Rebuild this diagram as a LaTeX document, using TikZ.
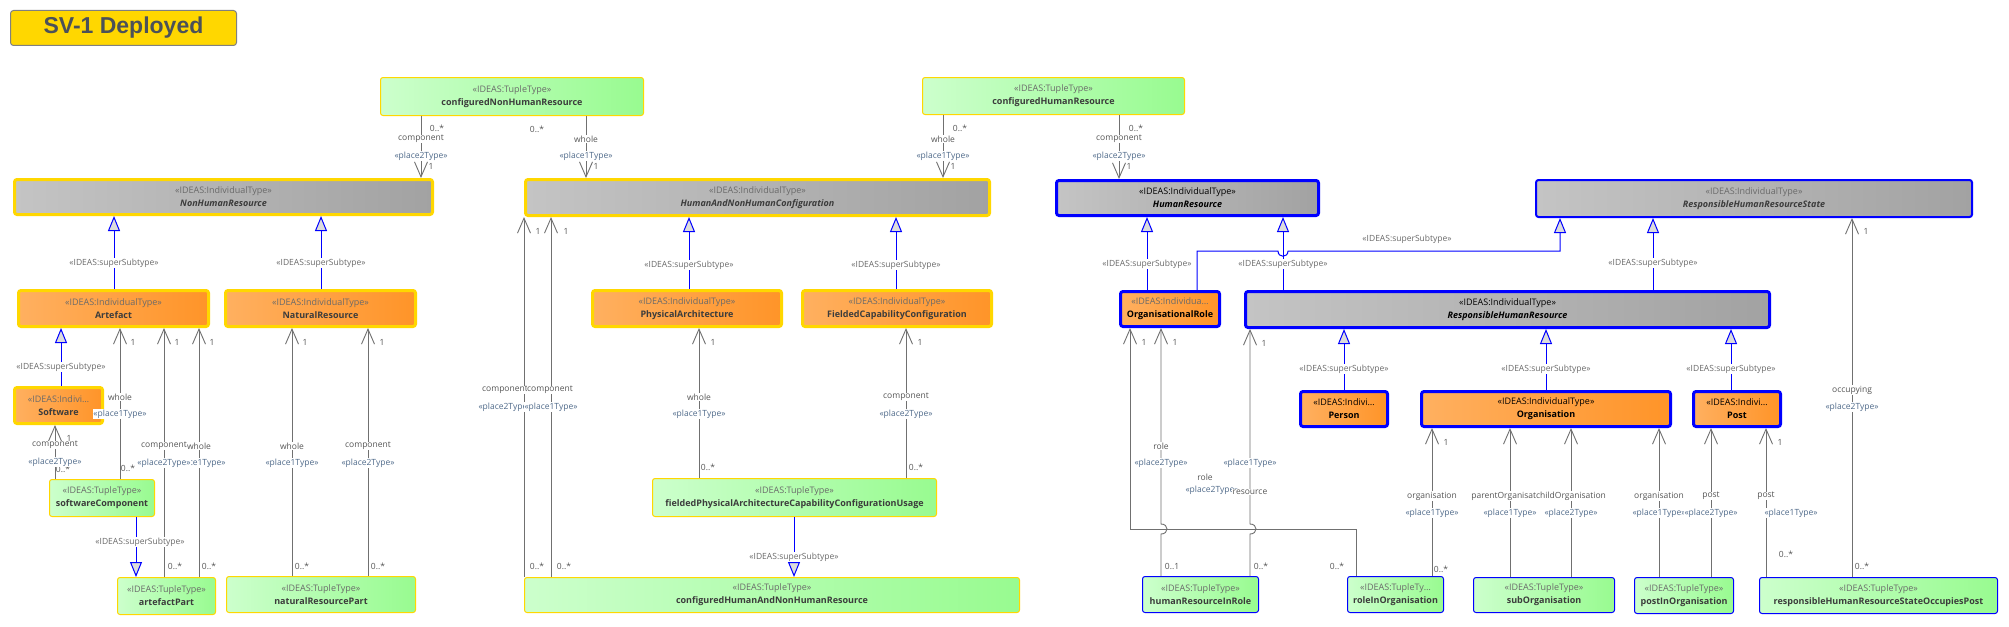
\documentclass[tikz,border=0pt]{standalone}
\usepackage{fontspec}
\usetikzlibrary{arrows.meta}
\newfontfamily\dfont{Open Sans}
\newfontfamily\tfont{Liberation Sans}
\definecolor{gold}{HTML}{FFD700}
\definecolor{gra}{HTML}{C4C4C4}
\definecolor{grb}{HTML}{A2A2A2}
\definecolor{ora}{HTML}{FFB060}
\definecolor{orb}{HTML}{FF9428}
\definecolor{gna}{HTML}{CCFFCC}
\definecolor{gnb}{HTML}{98FB90}
\definecolor{bl}{HTML}{0000FF}
\definecolor{lgray}{HTML}{707070}
\definecolor{trig}{HTML}{DCDCDC}
\definecolor{txtg}{HTML}{6A6A6A}
\definecolor{txtd}{HTML}{3C3C3C}
\definecolor{labr}{HTML}{555555}
\definecolor{labs}{HTML}{4F6A8A}
\definecolor{ttxt}{HTML}{4B5159}
\newcommand\nodefont{\dfont\fontsize{9}{13}\selectfont}
\newcommand\labfont{\dfont\fontsize{8.5}{10}\selectfont}
\newcommand\stg[1]{{\color{txtg}#1}}
\newcommand\stk[1]{{\color{black}#1}}
\newcommand\nmb[1]{{\bfseries #1}}
\newcommand\nmi[1]{{\bfseries\itshape #1}}
\newcommand\lrole[4]{\node[rolel] (#1) at (#2,#3) {#4};}
\newcommand\lster[4]{\node[sterl] (#1) at (#2,#3) {#4};}
\newcommand\lmult[4]{\node[multl] (#1) at (#2,#3) {#4};}
\newcommand\lgen[3]{\node[genl] (#1) at (#2,#3) {«IDEAS:superSubtype»};}
\tikzset{
  box/.style={rectangle, rounded corners=2.5pt, align=center, inner sep=1pt, font=\nodefont, text=txtd},
  gind/.style={box, draw=gold, line width=3pt, left color=ora, right color=orb},
  gabs/.style={box, draw=gold, line width=3pt, left color=gra, right color=grb},
  babs/.style={box, draw=bl, line width=3pt, left color=gra, right color=grb, text=black},
  bind/.style={box, draw=bl, line width=3pt, left color=ora, right color=orb, text=black},
  gtup/.style={box, draw=gold, line width=1pt, left color=gna, right color=gnb},
  btup/.style={box, draw=bl, line width=1pt, left color=gna, right color=gnb},
  assoc/.style={draw=lgray, line width=0.9pt, -{Straight Barb[length=15pt,width=13pt]}},
  gen/.style={draw=bl, line width=1pt, -{Triangle[fill=trig,length=15pt,width=12pt]}},
  rolel/.style={font=\labfont, fill=white, inner sep=0.6pt, text=labr},
  sterl/.style={font=\labfont, fill=white, inner sep=0.6pt, text=labs},
  multl/.style={font=\labfont, inner sep=0.3pt, text=labr},
  genl/.style={font=\labfont, fill=white, inner sep=0.6pt, text=txtg},
}
\begin{document}
\begin{tikzpicture}[x=1pt,y=-1pt]
\fill[white] (0,0) rectangle (2009,626);
\useasboundingbox (0,0) rectangle (2009,626);
% title
\node[draw=gray, fill=gold, rounded corners=3pt, line width=1pt, minimum width=226, minimum height=35,
  font=\tfont\bfseries\fontsize{23}{23}\selectfont, text=ttxt] (title) at (123.5,28) {SV-1 Deployed};
% row 0 tuple types
\node[gtup, minimum width=263, minimum height=38] (cnhr) at (512,96.5) {\stg{«IDEAS:TupleType»}\\\nmb{configuredNonHumanResource}};
\node[gtup, minimum width=262, minimum height=37] (chr) at (1053.5,96) {\stg{«IDEAS:TupleType»}\\\nmb{configuredHumanResource}};
% row 1
\node[gabs, minimum width=418, minimum height=35] (nhr) at (223.5,197) {\stg{«IDEAS:IndividualType»}\\\nmi{NonHumanResource}};
\node[gabs, minimum width=464, minimum height=36] (hanhc) at (757.5,197.5) {\stg{«IDEAS:IndividualType»}\\\nmi{HumanAndNonHumanConfiguration}};
\node[babs, minimum width=262, minimum height=35] (hr) at (1187.5,198) {\stk{«IDEAS:IndividualType»}\\\nmi{HumanResource}};
\node[babs, line width=2pt, text=txtd, minimum width=436, minimum height=37] (rhrs) at (1754,198.5) {\stg{«IDEAS:IndividualType»}\\\nmi{ResponsibleHumanResourceState}};
% row 2
\node[gind, minimum width=190, minimum height=36] (art) at (113.5,308.5) {\stg{«IDEAS:IndividualType»}\\\nmb{Artefact}};
\node[gind, minimum width=190, minimum height=36] (nr) at (320.5,308.5) {\stg{«IDEAS:IndividualType»}\\\nmb{NaturalResource}};
\node[gind, minimum width=189, minimum height=36] (pa) at (687,308.5) {\stg{«IDEAS:IndividualType»}\\\nmb{PhysicalArchitecture}};
\node[gind, minimum width=189, minimum height=36] (fcc) at (897,308.5) {\stg{«IDEAS:IndividualType»}\\\nmb{FieldedCapabilityConfiguration}};
\node[bind, minimum width=99, minimum height=35] (orl) at (1170,309) {\stg{«IDEAS:Individua…}\\\nmb{OrganisationalRole}};
\node[babs, minimum width=524, minimum height=36] (rhr) at (1507.5,309.5) {\stk{«IDEAS:IndividualType»}\\\nmi{ResponsibleHumanResource}};
% row 3
\node[gind, minimum width=88, minimum height=36] (sw) at (58.5,405.5) {\stg{«IDEAS:Indivi…}\\\nmb{Software}};
\node[bind, minimum width=87, minimum height=35] (per) at (1344,409) {\stk{«IDEAS:Indivi…}\\\nmb{Person}};
\node[bind, minimum width=249, minimum height=35] (org) at (1546,409) {\stk{«IDEAS:IndividualType»}\\\nmb{Organisation}};
\node[bind, minimum width=87, minimum height=35] (post) at (1737,409) {\stk{«IDEAS:Indivi…}\\\nmb{Post}};
% row 4
\node[gtup, minimum width=105, minimum height=37] (swc) at (102,498) {\stg{«IDEAS:TupleType»}\\\nmb{softwareComponent}};
\node[gtup, minimum width=284, minimum height=38] (fpa) at (794.5,497.5) {\stg{«IDEAS:TupleType»}\\\nmb{fieldedPhysicalArchitectureCapabilityConfigurationUsage}};
% row 5
\node[gtup, minimum width=98, minimum height=37] (ap) at (166.5,596) {\stg{«IDEAS:TupleType»}\\\nmb{artefactPart}};
\node[gtup, minimum width=189, minimum height=36] (nrp) at (321,594.5) {\stg{«IDEAS:TupleType»}\\\nmb{naturalResourcePart}};
\node[gtup, minimum width=495, minimum height=35] (chnh) at (772,595) {\stg{«IDEAS:TupleType»}\\\nmb{configuredHumanAndNonHumanResource}};
\node[btup, minimum width=116, minimum height=36] (hrir) at (1200.5,594.5) {\stg{«IDEAS:TupleType»}\\\nmb{humanResourceInRole}};
\node[btup, minimum width=96, minimum height=36] (rio) at (1395.5,594.5) {\stg{«IDEAS:TupleTy…}\\\nmb{roleInOrganisation}};
\node[btup, minimum width=141, minimum height=35] (sub) at (1544,595) {\stg{«IDEAS:TupleType»}\\\nmb{subOrganisation}};
\node[btup, minimum width=99, minimum height=36] (pio) at (1684,595.5) {\stg{«IDEAS:TupleType»}\\\nmb{postInOrganisation}};
\node[btup, minimum width=238, minimum height=36] (rocc) at (1878.5,595.5) {\stg{«IDEAS:TupleType»}\\\nmb{responsibleHumanResourceStateOccupiesPost}};
% generalizations
\draw[gen] (art.north -| 114,0) -- (nhr.south -| 114,0);
\draw[gen] (nr.north -| 321,0) -- (nhr.south -| 321,0);
\draw[gen] (sw.north -| 61,0) -- (art.south -| 61,0);
\draw[gen] (swc.south -| 136,0) -- (ap.north -| 136,0);
\draw[gen] (pa.north -| 689,0) -- (hanhc.south -| 689,0);
\draw[gen] (fcc.north -| 896,0) -- (hanhc.south -| 896,0);
\draw[gen] (fpa.south -| 794,0) -- (chnh.north -| 794,0);
\draw[gen] (orl.north -| 1147,0) -- (hr.south -| 1147,0);
\draw[gen] (rhr.north -| 1283,0) -- (hr.south -| 1283,0);
\draw[gen] (orl.north -| 1197,0) -- (1197,251) -- (1278,251) .. controls (1278,258) and (1288,258) .. (1288,251) -- (1560,251) -- (rhrs.south -| 1560,0);
\draw[gen] (rhr.north -| 1653,0) -- (rhrs.south -| 1653,0);
\draw[gen] (per.north -| 1344,0) -- (rhr.south -| 1344,0);
\draw[gen] (org.north -| 1546,0) -- (rhr.south -| 1546,0);
\draw[gen] (post.north -| 1731,0) -- (rhr.south -| 1731,0);
% associations
\draw[assoc] (cnhr.south -| 421,0) -- (nhr.north -| 421,0);
\draw[assoc] (cnhr.south -| 586,0) -- (hanhc.north -| 586,0);
\draw[assoc] (chr.south -| 943,0) -- (hanhc.north -| 943,0);
\draw[assoc] (chr.south -| 1119,0) -- (hr.north -| 1119,0);
\draw[assoc] (swc.north -| 120,0) -- (art.south -| 120,0);
\draw[assoc] (ap.north -| 164,0) -- (art.south -| 164,0);
\draw[assoc] (ap.north -| 199,0) -- (art.south -| 199,0);
\draw[assoc] (nrp.north -| 292,0) -- (nr.south -| 292,0);
\draw[assoc] (nrp.north -| 368,0) -- (nr.south -| 368,0);
\draw[assoc] (swc.north -| 55,0) -- (sw.south -| 55,0);
\draw[assoc] (chnh.north -| 524,0) -- (hanhc.south -| 524,0);
\draw[assoc] (chnh.north -| 551,0) -- (hanhc.south -| 551,0);
\draw[assoc] (fpa.north -| 699,0) -- (pa.south -| 699,0);
\draw[assoc] (fpa.north -| 906,0) -- (fcc.south -| 906,0);
\draw[assoc] (rio.north -| 1356,0) -- (1356,529) -- (1130,529) -- (orl.south -| 1130,0);
\draw[assoc] (hrir.north -| 1161,0) -- (1161,534) .. controls (1169,534) and (1169,524) .. (1161,524) -- (orl.south -| 1161,0);
\draw[assoc] (hrir.north -| 1250,0) -- (1250,534) .. controls (1258,534) and (1258,524) .. (1250,524) -- (rhr.south -| 1250,0);
\draw[assoc] (rio.north -| 1432,0) -- (org.south -| 1432,0);
\draw[assoc] (sub.north -| 1510,0) -- (org.south -| 1510,0);
\draw[assoc] (sub.north -| 1571,0) -- (org.south -| 1571,0);
\draw[assoc] (pio.north -| 1659,0) -- (org.south -| 1659,0);
\draw[assoc] (pio.north -| 1711,0) -- (post.south -| 1711,0);
\draw[assoc] (rocc.north -| 1766,0) -- (post.south -| 1766,0);
\draw[assoc] (rocc.north -| 1852,0) -- (rhrs.south -| 1852,0);
% generalization labels
\lgen{g1}{114}{263} \lgen{g2}{321}{263} \lgen{g3}{61}{367} \lgen{g4}{140}{542}
\lgen{g5}{689}{265} \lgen{g6}{896}{265} \lgen{g7}{794}{557} \lgen{g8}{1147}{264}
\lgen{g9}{1283}{264} \lgen{g10}{1407}{239} \lgen{g11}{1653}{263} \lgen{g12}{1344}{369}
\lgen{g13}{1546}{369} \lgen{g14}{1731}{369}
% association labels
\lmult{a1m}{437}{128}{0..*} \lrole{a1r}{421}{139}{component} \lster{a1s}{421}{156}{«place2Type»} \lmult{a1n}{431}{166}{1}
\lmult{a2m}{537}{129}{0..*} \lrole{a2r}{586}{139}{whole} \lster{a2s}{586}{156}{«place1Type»} \lmult{a2n}{596}{166}{1}
\lmult{a3m}{960}{128}{0..*} \lrole{a3r}{943}{139}{whole} \lster{a3s}{943}{156}{«place1Type»} \lmult{a3n}{953}{166}{1}
\lmult{a4m}{1136}{128}{0..*} \lrole{a4r}{1119}{139}{component} \lster{a4s}{1119}{156}{«place2Type»} \lmult{a4n}{1129}{166}{1}
\lmult{a5n}{133}{342}{1} \lrole{a5r}{120}{397}{whole} \lster{a5s}{120}{414}{«place1Type»} \lmult{a5m}{128}{468}{0..*}
\lmult{a7n}{212}{342}{1} \lrole{a7r}{199}{446}{whole} \lster{a7s}{199}{463}{«place1Type»} \lmult{a7m}{209}{566}{0..*}
\lmult{a6n}{177}{342}{1} \lrole{a6r}{164}{446}{component} \lster{a6s}{164}{463}{«place2Type»} \lmult{a6m}{175}{566}{0..*}
\lmult{a8n}{305}{342}{1} \lrole{a8r}{292}{446}{whole} \lster{a8s}{292}{463}{«place1Type»} \lmult{a8m}{302}{566}{0..*}
\lmult{a9n}{382}{342}{1} \lrole{a9r}{368}{446}{component} \lster{a9s}{368}{463}{«place2Type»} \lmult{a9m}{378}{566}{0..*}
\lrole{a10r}{55}{445}{component} \lmult{a10m}{63}{469}{0..*} \lster{a10s}{55}{462}{«place2Type»} \lmult{a10n}{69}{438}{1}
\lmult{a11n}{538}{231}{1} \lrole{a11r}{505}{390}{component} \lster{a11s}{505}{407}{«place2Type»} \lmult{a11m}{537}{566}{0..*}
\lmult{a12n}{566}{231}{1} \lrole{a12r}{550}{390}{component} \lster{a12s}{551}{407}{«place1Type»} \lmult{a12m}{564}{566}{0..*}
\lmult{a13n}{713}{342}{1} \lrole{a13r}{699}{397}{whole} \lster{a13s}{699}{414}{«place1Type»} \lmult{a13m}{708}{467}{0..*}
\lmult{a14n}{920}{342}{1} \lrole{a14r}{906}{397}{component} \lster{a14s}{906}{414}{«place2Type»} \lmult{a14m}{916}{467}{0..*}
\lmult{a15n}{1175}{342}{1} \lrole{a15r}{1161}{446}{role} \lster{a15s}{1161}{463}{«place2Type»} \lmult{a15m}{1172}{566}{0..1}
\lmult{a17n}{1144}{342}{1} \lrole{a17r}{1205}{477}{role} \lster{a17s}{1212}{490}{«place2Type»} \lmult{a17m}{1337}{566}{0..*}
\lmult{a16n}{1264}{343}{1} \lster{a16s}{1250}{463}{«place1Type»} \lrole{a16r}{1250}{492}{resource} \lmult{a16m}{1261}{566}{0..*}
\lmult{a18n}{1446}{442}{1} \lrole{a18r}{1432}{496}{organisation} \lster{a18s}{1432}{513}{«place1Type»} \lmult{a18m}{1441}{569}{0..*}
\lrole{a19r}{1510}{496}{parentOrganisation} \lster{a19s}{1510}{513}{«place1Type»}
\lrole{a20r}{1571}{496}{childOrganisation} \lster{a20s}{1571}{513}{«place2Type»}
\lrole{a21r}{1659}{496}{organisation} \lster{a21s}{1659}{513}{«place1Type»}
\lrole{a22r}{1711}{496}{post} \lster{a22s}{1711}{513}{«place2Type»}
\lmult{a23n}{1780}{442}{1} \lrole{a23r}{1766}{496}{post} \lster{a23s}{1791}{513}{«place1Type»} \lmult{a23m}{1786}{554}{0..*}
\lmult{a24n}{1866}{231}{1} \lrole{a24r}{1852}{390}{occupying} \lster{a24s}{1852}{407}{«place2Type»} \lmult{a24m}{1862}{566}{0..*}
\end{tikzpicture}
\end{document}
